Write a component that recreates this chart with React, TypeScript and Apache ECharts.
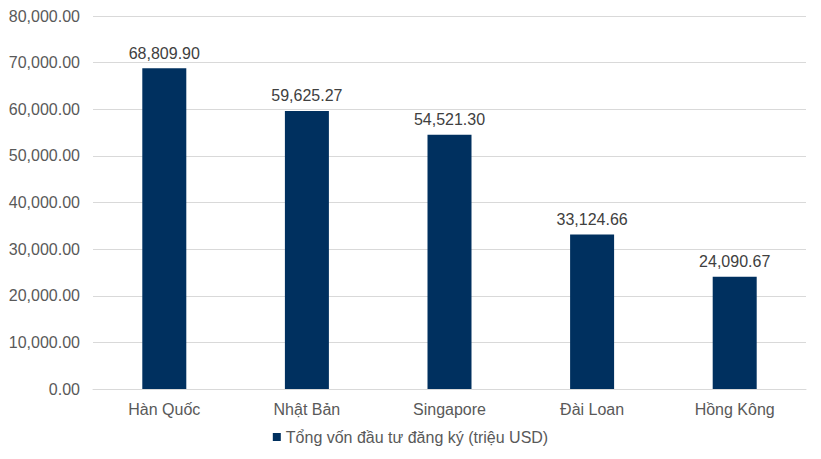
import React, { useEffect, useRef } from "react";
import * as echarts from "echarts";

const categories = ["Hàn Quốc", "Nhật Bản", "Singapore", "Đài Loan", "Hồng Kông"];
const values = [68809.9, 59625.27, 54521.3, 33124.66, 24090.67];
const seriesName = "Tổng vốn đầu tư đăng ký (triệu USD)";

const fmt = (v: number) =>
  v.toLocaleString("en-US", { minimumFractionDigits: 2, maximumFractionDigits: 2 });

export default function App() {
  const ref = useRef<HTMLDivElement>(null);
  useEffect(() => {
    const chart = echarts.init(ref.current!, null, { renderer: "svg" });
    const font = "'Liberation Sans', Arial, sans-serif";
    chart.setOption({
      animation: false,
      textStyle: { fontFamily: font },
      grid: { left: 93, right: 15, top: 16, bottom: 70, containLabel: false },
      legend: {
        bottom: 9,
        left: "center",
        itemWidth: 8,
        itemHeight: 8,
        icon: "rect",
        itemGap: 10,
        textStyle: { color: "#595959", fontSize: 16, fontFamily: font },
        data: [seriesName],
      },
      xAxis: {
        type: "category",
        data: categories,
        axisLine: { show: true, lineStyle: { color: "#d9d9d9", width: 1 } },
        axisTick: { show: false },
        axisLabel: { color: "#595959", fontSize: 16, margin: 12, fontFamily: font },
      },
      yAxis: {
        type: "value",
        min: 0,
        max: 80000,
        interval: 10000,
        axisLine: { show: false },
        axisTick: { show: false },
        splitLine: { lineStyle: { color: "#d9d9d9", width: 1 } },
        axisLabel: {
          color: "#595959",
          fontSize: 16,
          margin: 13,
          fontFamily: font,
          formatter: (v: number) => fmt(v),
        },
      },
      series: [
        {
          name: seriesName,
          type: "bar",
          data: values,
          barWidth: 44,
          itemStyle: { color: "#00305f" },
          label: {
            show: true,
            position: "top",
            distance: 7,
            color: "#404040",
            fontSize: 16,
            fontFamily: font,
            formatter: (p: any) => fmt(p.value),
          },
        },
      ],
    });
    return () => chart.dispose();
  }, []);
  return <div ref={ref} style={{ width: 821, height: 459, position: "absolute", left: 0, top: 0 }} />;
}
